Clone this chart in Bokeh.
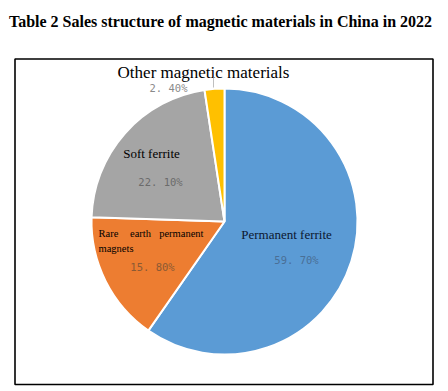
import numpy as np
from bokeh.plotting import figure
from bokeh.models import Range1d, ColumnDataSource
from bokeh.core.properties import value
from bokeh.embed import file_html
from bokeh.resources import INLINE

# ---- data ----
categories = ["Permanent ferrite", "Rare earth permanent magnets", "Soft ferrite", "Other magnetic materials"]
shares = [59.7, 15.8, 22.1, 2.4]
pct_labels = ["59. 70%", "15. 80%", "22. 10%", "2. 40%"]
colors = ["#5B9BD5", "#ED7D31", "#A5A5A5", "#FFC000"]
title_text = "Table 2 Sales structure of magnetic materials in China in 2022"

# ---- layout (window pixel coordinates; y measured from top of the window) ----
W, H = 440, 388
def Y(py):
    return 391 - py

cx, cy, R = 224, 221, 133

p = figure(width=W, height=H, output_backend="svg", toolbar_location=None,
           x_range=Range1d(0, W), y_range=Range1d(391 - H, 391),
           min_border=0, outline_line_color=None)
p.axis.visible = False
p.grid.visible = False
p.background_fill_color = "white"
p.border_fill_color = "white"

# frame
p.quad(left=[14.5], right=[432.5], top=[Y(58.5)], bottom=[Y(384)],
       fill_color=None, line_color="black", line_width=1.6)

# pie: start at 12 o'clock, go clockwise
vals = np.array(shares, dtype=float)
ang = vals / vals.sum() * 2 * np.pi
ends_cum = np.cumsum(ang)
starts = np.pi / 2 - np.concatenate([[0], ends_cum[:-1]])
ends = np.pi / 2 - ends_cum
src = ColumnDataSource(dict(start=starts, end=ends, color=colors, cat=categories))
p.wedge(x=cx, y=Y(cy), radius=R, start_angle="start", end_angle="end",
        direction="clock", fill_color="color", line_color="white", line_width=2,
        source=src)

serif = value("Liberation Serif")
mono = value("DejaVu Sans Mono")

# title
p.text(x=[220], y=[Y(21)], text=[title_text], text_font=serif,
       text_font_style="bold", text_font_size="16px", text_align="center",
       text_baseline="alphabetic", text_color="black")

# category labels
p.text(x=[203], y=[Y(72)], text=[categories[3]], text_font=serif,
       text_font_size="17px", text_align="center", text_baseline="alphabetic",
       text_color="black")
p.text(x=[151], y=[Y(153)], text=[categories[2]], text_font=serif,
       text_font_size="13px", text_align="center", text_baseline="alphabetic",
       text_color="black")
p.text(x=[286], y=[Y(234)], text=[categories[0]], text_font=serif,
       text_font_size="13px", text_align="center", text_baseline="alphabetic",
       text_color="#0b1730")
# justified two-line label
re_words = categories[1].split()
p.text(x=[98], y=[Y(233)], text=[re_words[0]], text_font=serif,
       text_font_size="10.5px", text_align="left", text_baseline="alphabetic",
       text_color="black")
p.text(x=[140], y=[Y(233)], text=[re_words[1]], text_font=serif,
       text_font_size="10.5px", text_align="center", text_baseline="alphabetic",
       text_color="black")
p.text(x=[203], y=[Y(233)], text=[re_words[2]], text_font=serif,
       text_font_size="10.5px", text_align="right", text_baseline="alphabetic",
       text_color="black")
p.text(x=[98], y=[Y(248)], text=[re_words[3]], text_font=serif,
       text_font_size="10.5px", text_align="left", text_baseline="alphabetic",
       text_color="black")

# percentage labels
pct_x = [296, 152, 160, 168]
pct_y = [259, 266, 181, 87]
pct_colors = ["#4A6F96", "#8B5A34", "#6B6B6B", "#8A8A8A"]
p.text(x=pct_x, y=[Y(v) for v in pct_y], text=pct_labels, text_font=mono,
       text_font_size="10.5px", text_align="center", text_baseline="alphabetic",
       text_color=pct_colors)

# leader line for the small slice
p.line(x=[213, 213], y=[Y(77), Y(87)], line_color="#BFBFBF", line_width=1)

open("out.html", "w").write(file_html(p, INLINE))
